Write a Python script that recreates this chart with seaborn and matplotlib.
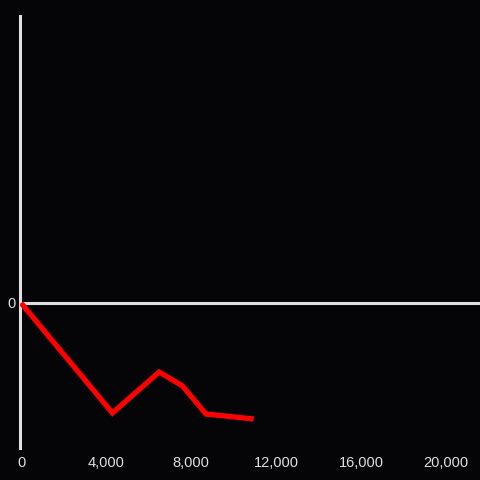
import numpy as np
import pandas as pd
import seaborn as sns
import matplotlib.pyplot as plt
from matplotlib.ticker import FuncFormatter

# data
x_vals = [0, 4300, 6500, 7600, 8700, 10950]
y_vals = [0, -1.10, -0.69, -0.83, -1.11, -1.16]
x_ticks = [0, 4000, 8000, 12000, 16000, 20000]

df = pd.DataFrame({'x': x_vals, 'y': y_vals})

sns.set_style('dark')
plt.rcParams['font.family'] = ['Liberation Sans', 'DejaVu Sans']

bg = '#050407'
fg = '#e0e0e0'

fig = plt.figure(figsize=(4.8, 4.8), dpi=100, facecolor=bg)
ax = fig.add_axes([20/480, 32/480, 460/480, 432/480])
ax.set_facecolor(bg)

ax.axhline(0, color=fg, lw=2.2, zorder=1)
sns.lineplot(data=df, x='x', y='y', color='#ff0000', lw=3.8, ax=ax, zorder=3,
             solid_joinstyle='miter', solid_capstyle='butt')

ax.set_xlim(-50, 21600)
ax.set_ylim(-1.45, 2.87)
ax.set_xticks(x_ticks)
ax.xaxis.set_major_formatter(FuncFormatter(lambda v, p: f'{int(v):,}'))
ax.set_yticks([0])
ax.tick_params(axis='both', length=0, colors=fg, labelsize=10.5)
ax.tick_params(axis='x', pad=6)
ax.tick_params(axis='y', pad=3)
ax.set_xlabel('')
ax.set_ylabel('')
ax.grid(False)

for s in ['top', 'right', 'bottom']:
    ax.spines[s].set_visible(False)
ax.spines['left'].set_color(fg)
ax.spines['left'].set_linewidth(2.2)
ax.spines['left'].set_visible(True)

fig.savefig('out.png', dpi=100, facecolor=bg)
